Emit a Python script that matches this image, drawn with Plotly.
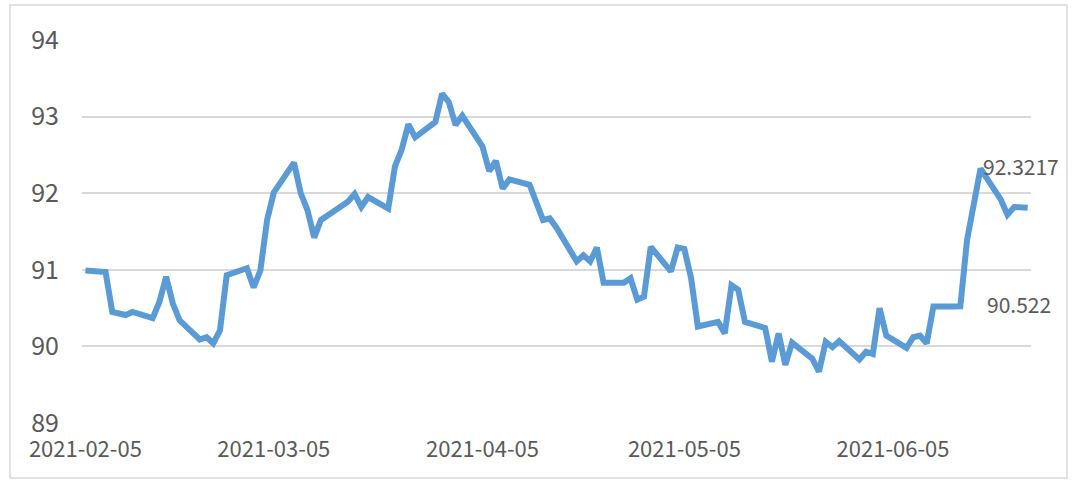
import plotly.graph_objects as go

dates = [
    "2021-02-05", "2021-02-08", "2021-02-09", "2021-02-10", "2021-02-11", "2021-02-12",
    "2021-02-15", "2021-02-16", "2021-02-17", "2021-02-18", "2021-02-19",
    "2021-02-22", "2021-02-23", "2021-02-24", "2021-02-25", "2021-02-26",
    "2021-03-01", "2021-03-02", "2021-03-03", "2021-03-04", "2021-03-05",
    "2021-03-08", "2021-03-09", "2021-03-10", "2021-03-11", "2021-03-12",
    "2021-03-15", "2021-03-16", "2021-03-17", "2021-03-18", "2021-03-19",
    "2021-03-22", "2021-03-23", "2021-03-24", "2021-03-25", "2021-03-26",
    "2021-03-29", "2021-03-30", "2021-03-31", "2021-04-01", "2021-04-02",
    "2021-04-05", "2021-04-06", "2021-04-07", "2021-04-08", "2021-04-09",
    "2021-04-12", "2021-04-13", "2021-04-14", "2021-04-15", "2021-04-16",
    "2021-04-19", "2021-04-20", "2021-04-21", "2021-04-22", "2021-04-23",
    "2021-04-26", "2021-04-27", "2021-04-28", "2021-04-29", "2021-04-30",
    "2021-05-03", "2021-05-04", "2021-05-05", "2021-05-06", "2021-05-07",
    "2021-05-10", "2021-05-11", "2021-05-12", "2021-05-13", "2021-05-14",
    "2021-05-17", "2021-05-18", "2021-05-19", "2021-05-20", "2021-05-21",
    "2021-05-24", "2021-05-25", "2021-05-26", "2021-05-27", "2021-05-28",
    "2021-05-31", "2021-06-01", "2021-06-02", "2021-06-03", "2021-06-04",
    "2021-06-07", "2021-06-08", "2021-06-09", "2021-06-10", "2021-06-11",
    "2021-06-14", "2021-06-15", "2021-06-16", "2021-06-17", "2021-06-18",
    "2021-06-21", "2021-06-22", "2021-06-23", "2021-06-24", "2021-06-25",
]

values = [
    90.99, 90.97, 90.45, 90.43, 90.41, 90.45,
    90.37, 90.58, 90.91, 90.56, 90.34,
    90.09, 90.12, 90.04, 90.21, 90.93,
    91.02, 90.77, 90.99, 91.65, 92.01,
    92.40, 92.00, 91.78, 91.42, 91.65,
    91.82, 91.89, 91.99, 91.82, 91.95,
    91.80, 92.35, 92.57, 92.90, 92.73,
    92.93, 93.30, 93.19, 92.89, 93.01,
    92.61, 92.29, 92.42, 92.06, 92.18,
    92.11, 91.87, 91.65, 91.67, 91.55,
    91.11, 91.19, 91.11, 91.29, 90.83,
    90.83, 90.89, 90.61, 90.65, 91.30,
    90.98, 91.29, 91.27, 90.89, 90.26,
    90.32, 90.17, 90.80, 90.74, 90.32,
    90.24, 89.80, 90.17, 89.76, 90.05,
    89.84, 89.67, 90.06, 89.99, 90.07,
    89.83, 89.93, 89.90, 90.50, 90.14,
    89.98, 90.12, 90.14, 90.04, 90.52,
    90.52, 90.522, 91.39, 91.82, 92.3217,
    91.92, 91.72, 91.82, 91.82, 91.81,
]

tick_dates = ["2021-02-05", "2021-03-05", "2021-04-05", "2021-05-05", "2021-06-05"]
tick_labels = ["2021-02-05", "2021-03-05", "2021-04-05", "2021-05-05", "2021-06-05"]
y_ticks = [89, 90, 91, 92, 93, 94]

label_max_date = "2021-06-18"
label_max_value = 92.3217
label_mid_value = 90.522

FONT = "Noto Sans CJK SC, Noto Sans, sans-serif"
GRAY = "#595959"

fig = go.Figure()
fig.add_trace(go.Scatter(
    x=dates, y=values, mode="lines",
    line=dict(color="#5B9BD5", width=6),
    showlegend=False, hoverinfo="x+y",
))

fig.add_annotation(x=label_max_date, y=label_max_value, text=f"{label_max_value}",
                   showarrow=False, xanchor="left", yanchor="middle", xshift=0, yshift=3,
                   font=dict(family=FONT, size=21, color=GRAY))
fig.add_annotation(x=label_max_date, y=label_mid_value, text=f"{label_mid_value}",
                   showarrow=False, xanchor="left", yanchor="middle", xshift=4, yshift=2,
                   font=dict(family=FONT, size=21, color=GRAY))

# outer chart border
L, R, T, B = 82, 43, 40, 62
pw = 1074 - L - R
ph = 485 - T - B
fig.add_shape(type="rect", xref="paper", yref="paper",
              x0=(10 - L) / pw, x1=(1067 - L) / pw,
              y0=(485 - B - 478) / ph, y1=(485 - B - 5) / ph,
              line=dict(color="#d9d9d9", width=1.5), fillcolor="rgba(0,0,0,0)", layer="below")

fig.update_layout(
    width=1074, height=485,
    margin=dict(l=L, r=R, t=T, b=B),
    paper_bgcolor="white", plot_bgcolor="white",
    font=dict(family=FONT, color=GRAY),
    xaxis=dict(
        type="date",
        range=["2021-02-04 12:00", "2021-06-25 12:00"],
        tickvals=tick_dates, ticktext=tick_labels,
        showgrid=False, zeroline=False, showline=False,
        ticks="", tickfont=dict(family=FONT, size=22, color=GRAY),
        ticklabelstandoff=11,
    ),
    yaxis=dict(
        range=[89, 94],
        tickvals=y_ticks,
        showgrid=True, gridcolor="#d9d9d9", gridwidth=1.5,
        zeroline=False, showline=False,
        ticks="", tickfont=dict(family=FONT, size=25, color=GRAY),
        ticklabelstandoff=22,
    ),
)

fig.write_html("out.html", config={"displayModeBar": False},
               post_script="document.body.style.margin='0';")
